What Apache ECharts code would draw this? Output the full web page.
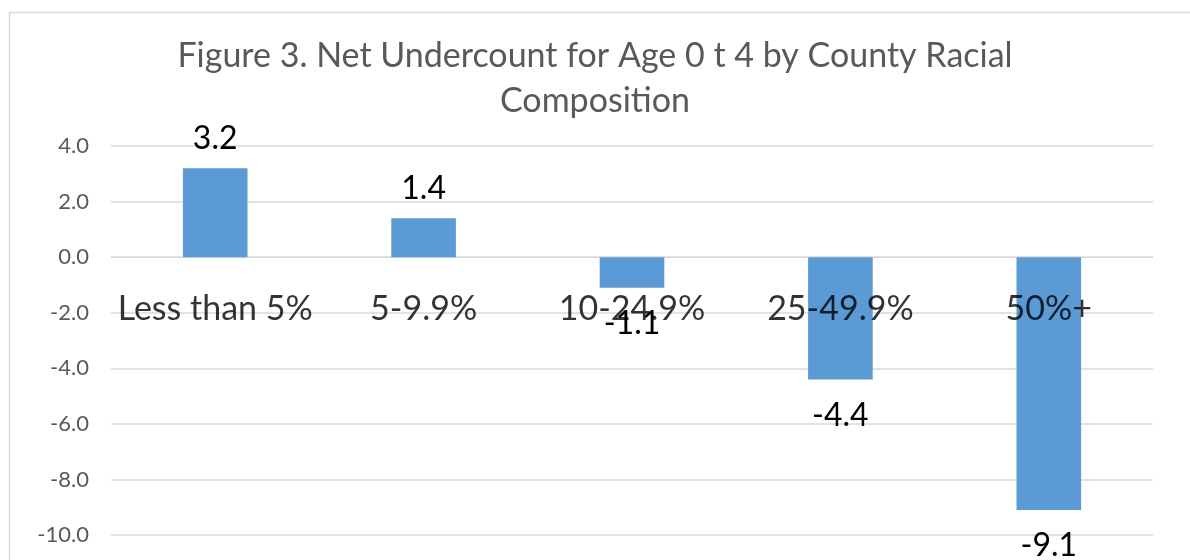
<!DOCTYPE html>
<html>
<head>
<meta charset="utf-8">
<script src="https://cdn.jsdelivr.net/npm/echarts@6/dist/echarts.min.js"></script>
<style>
html,body{margin:0;padding:0;background:#fff;}
#c{width:1190px;height:560px;}
</style>
</head>
<body>
<div id="c"></div>
<script>
var categories = ['Less than 5%', '5-9.9%', '10-24.9%', '25-49.9%', '50%+'];
var values = [3.2, 1.4, -1.1, -4.4, -9.1];
var yTicks = { min: -10, max: 4, interval: 2 };
var titleText = 'Figure 3. Net Undercount for Age 0 t 4 by County Racial\nComposition';

var chart = echarts.init(document.getElementById('c'));
var FONT = 'Lato';
chart.setOption({
  animation: false,
  textStyle: { fontFamily: FONT },
  graphic: [{
    type: 'rect', left: 7, top: 10, silent: true,
    shape: { width: 1200, height: 580 },
    style: { fill: 'none', stroke: '#d9d9d9', lineWidth: 1.5 }
  }],
  title: {
    text: titleText,
    left: 'center', top: 29,
    textStyle: { fontFamily: FONT, fontSize: 34, fontWeight: 'normal', color: '#595959', lineHeight: 45 }
  },
  grid: { left: 111, right: 37, top: 146, bottom: 25, containLabel: false, outerBoundsMode: 'none' },
  xAxis: {
    type: 'category',
    data: categories,
    axisLine: { show: true, onZero: true, lineStyle: { color: '#d9d9d9', width: 1 } },
    axisTick: { show: false },
    axisLabel: { show: false }
  },
  yAxis: {
    type: 'value',
    min: yTicks.min, max: yTicks.max, interval: yTicks.interval,
    axisLine: { show: false },
    axisTick: { show: false },
    splitLine: { lineStyle: { color: '#d9d9d9', width: 1.5 } },
    axisLabel: { color: '#595959', fontFamily: FONT, fontSize: 22, margin: 22,
      formatter: function (v) { return v.toFixed(1); } }
  },
  series: [{
    type: 'bar',
    barWidth: '31%',
    itemStyle: { color: '#5b9bd5' },
    data: values.map(function (v) {
      return { value: v, label: v >= 0 ? { position: 'top', distance: 14 } : { position: 'bottom', distance: 20 } };
    }),
    label: {
      show: true, fontFamily: FONT, fontSize: 32, color: '#000',
      formatter: function (p) { return p.value.toFixed(1); }
    },
    z: 2
  }, {
    type: 'scatter',
    symbolSize: 0,
    silent: true,
    data: categories.map(function (c) { return [c, 0]; }),
    label: {
      show: true, position: 'bottom', distance: 35,
      fontFamily: FONT, fontSize: 34, color: '#000',
      formatter: function (p) { return p.name || p.value[0]; }
    },
    z: 5
  }]
});
</script>
</body>
</html>
